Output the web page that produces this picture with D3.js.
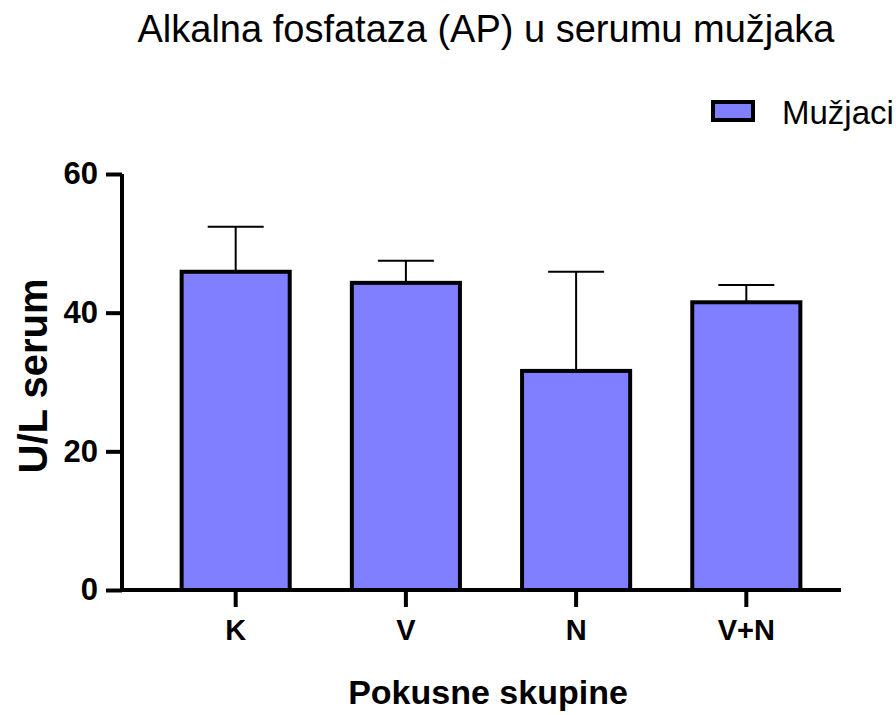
<!DOCTYPE html>
<html>
<head>
<meta charset="utf-8">
<script src="https://cdn.jsdelivr.net/npm/d3@7"></script>
<style>
  body { margin: 0; background: #fff; }
  text { font-family: "Liberation Sans", Arial, sans-serif; }
</style>
</head>
<body>
<div id="chartContainer"></div>
<script>
// Data
const groups = ["K", "V", "N", "V+N"];
const means = [45.9, 44.3, 31.6, 41.5];
const errors = [6.5, 3.2, 14.3, 2.5];
const yTicks = [0, 20, 40, 60];

const width = 896;
const height = 715;

const svg = d3.select("#chartContainer")
  .append("svg")
  .attr("width", width)
  .attr("height", height);

// Scales
const xScale = d3.scaleBand()
  .domain(groups)
  .range([151, 831])
  .paddingInner(0.365)
  .paddingOuter(0.18);

const yScale = d3.scaleLinear()
  .domain([0, 60])
  .range([590, 174]);

const data = groups.map((g, i) => ({ group: g, mean: means[i], err: errors[i] }));

// Error bars (drawn first so bar outline sits on top)
const capW = 56;
const err = svg.append("g");
err.selectAll(".stem")
  .data(data)
  .enter()
  .append("line")
  .attr("x1", d => xScale(d.group) + xScale.bandwidth() / 2)
  .attr("x2", d => xScale(d.group) + xScale.bandwidth() / 2)
  .attr("y1", d => yScale(d.mean))
  .attr("y2", d => yScale(d.mean + d.err))
  .attr("stroke", "#000")
  .attr("stroke-width", 2);
err.selectAll(".cap")
  .data(data)
  .enter()
  .append("line")
  .attr("x1", d => xScale(d.group) + xScale.bandwidth() / 2 - capW / 2)
  .attr("x2", d => xScale(d.group) + xScale.bandwidth() / 2 + capW / 2)
  .attr("y1", d => yScale(d.mean + d.err))
  .attr("y2", d => yScale(d.mean + d.err))
  .attr("stroke", "#000")
  .attr("stroke-width", 2);

// Bars
svg.selectAll(".bar")
  .data(data)
  .enter()
  .append("rect")
  .attr("class", "bar")
  .attr("x", d => xScale(d.group))
  .attr("y", d => yScale(d.mean))
  .attr("width", xScale.bandwidth())
  .attr("height", d => yScale(0) - yScale(d.mean))
  .attr("fill", "#7f7fff")
  .attr("stroke", "#000")
  .attr("stroke-width", 4);

// Y axis
const yAxis = svg.append("g")
  .attr("transform", "translate(122,0)")
  .call(d3.axisLeft(yScale).tickValues(yTicks).tickSize(16).tickPadding(8));
yAxis.select(".domain").attr("stroke-width", 4).attr("d", `M0,${yScale(60)}V${yScale(0)}`);
yAxis.selectAll(".tick line").attr("stroke-width", 4);
yAxis.selectAll(".tick text")
  .attr("font-size", 31)
  .attr("font-weight", "bold")
  .attr("font-family", "Liberation Sans, Arial, sans-serif")
  .attr("fill", "#000");

// X axis
const xAxis = svg.append("g")
  .attr("transform", `translate(0,${yScale(0)})`)
  .call(d3.axisBottom(xScale).tickSize(17).tickPadding(12));
xAxis.select(".domain").attr("stroke-width", 4).attr("d", "M120,0H841");
xAxis.selectAll(".tick line").attr("stroke-width", 4);
xAxis.selectAll(".tick text")
  .attr("font-size", 29)
  .attr("font-weight", "bold")
  .attr("font-family", "Liberation Sans, Arial, sans-serif")
  .attr("fill", "#000");

// Title
svg.append("text")
  .attr("x", 486)
  .attr("y", 42)
  .attr("text-anchor", "middle")
  .attr("font-size", 38)
  .text("Alkalna fosfataza (AP) u serumu mužjaka");

// Axis titles
svg.append("text")
  .attr("x", 488)
  .attr("y", 704)
  .attr("text-anchor", "middle")
  .attr("font-size", 34)
  .attr("font-weight", "bold")
  .text("Pokusne skupine");

svg.append("text")
  .attr("transform", "translate(47,376) rotate(-90)")
  .attr("text-anchor", "middle")
  .attr("font-size", 40)
  .attr("font-weight", "bold")
  .text("U/L serum");

// Legend
svg.append("rect")
  .attr("x", 713)
  .attr("y", 102)
  .attr("width", 40)
  .attr("height", 18)
  .attr("fill", "#7f7fff")
  .attr("stroke", "#000")
  .attr("stroke-width", 4);
svg.append("text")
  .attr("x", 782)
  .attr("y", 124)
  .attr("font-size", 33)
  .text("Mužjaci");
</script>
</body>
</html>
